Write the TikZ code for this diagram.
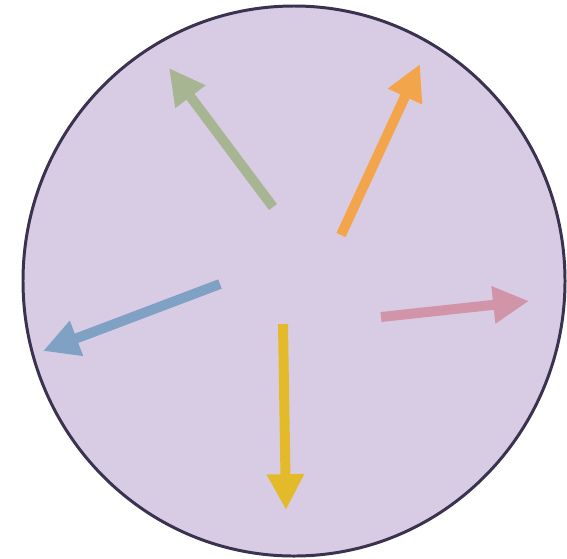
\documentclass[tikz,border=0pt]{standalone}
\usepackage{tikz}
\usetikzlibrary{arrows.meta}
\definecolor{discfill}{HTML}{D7CCE4}
\definecolor{discline}{HTML}{3B3250}
\definecolor{vgreen}{HTML}{A7B592}
\definecolor{vorange}{HTML}{F2A54A}
\definecolor{vpink}{HTML}{D194A8}
\definecolor{vblue}{HTML}{7FA1C4}
\definecolor{vyellow}{HTML}{E3BB2A}
\begin{document}
\begin{tikzpicture}[x=0.02cm,y=-0.02cm,
  vec/.style={line width=5.67pt,-{Triangle[length=20.4pt,width=20pt]}}]
\useasboundingbox (0,0) rectangle (567,558);
\draw[fill=discfill,draw=discline,line width=1.7pt] (294,281) ellipse [x radius=271,y radius=275];
\draw[vec,vgreen] (273,207) -- (169,68);
\draw[vec,vorange] (341,235) -- (420,64);
\draw[vec,vpink] (381,317) -- (529,301);
\draw[vec,vblue] (220,284) -- (43,351);
\draw[vec,vyellow] (283,324) -- (286,510);
\end{tikzpicture}
\end{document}
